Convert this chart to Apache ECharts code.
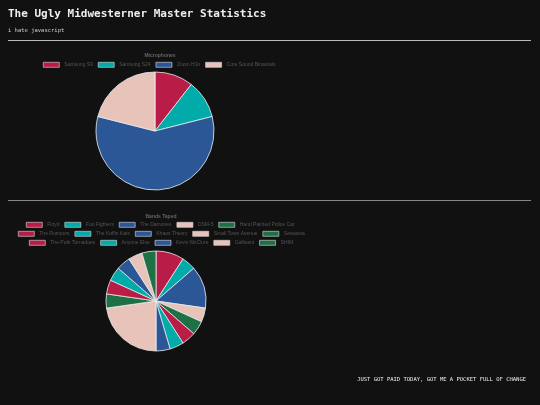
<!DOCTYPE html><html><head><meta charset="utf-8">
<script src="https://cdn.jsdelivr.net/npm/echarts@6/dist/echarts.min.js"></script>
<style>html,body{margin:0;background:#111;}#c{width:540px;height:405px;}</style></head><body><div id="c"></div>
<script>
const micNames=["Samsung S9","Samsung S24","Zoom H1n","Core Sound Binaurals"];
const micValues=[2,2,11,4];
const bandNames=["Floyd","Foo Fighters","The Damones","DSM-5","Hand Painted Police Car","The Rumours","The Koffin Kats","Khaos Theory","Small Town Avenue","Sessanta","The Pork Tornadoes","Anyone Else","Kevin McClure","Gallivant","SHIM"];
const bandValues=[2,1,3,1,1,1,1,1,5,1,1,1,1,1,1];
const palette=["#b91d47","#00aba9","#2b5797","#e8c3b9","#1e7145"];
const chart=echarts.init(document.getElementById('c'));
const legBase={icon:'rect',itemWidth:16,itemHeight:5,itemGap:5,padding:0,textStyle:{color:'#555',fontSize:5,fontFamily:'Liberation Sans'},itemStyle:{borderColor:'#ddd',borderWidth:0.6},selectedMode:false};
chart.setOption({
 backgroundColor:'#111',animation:false,
 title:[{text:'Microphones',left:155,top:48,textAlign:'center',textStyle:{color:'#666',fontSize:5,fontWeight:'bold',fontFamily:'Liberation Sans'}},
        {text:'Bands Taped',left:156,top:209,textAlign:'center',textStyle:{color:'#666',fontSize:5,fontWeight:'bold',fontFamily:'Liberation Sans'}}],
 legend:[
  Object.assign({},legBase,{data:micNames,top:62,left:43}),
  Object.assign({},legBase,{data:bandNames.slice(0,5),top:222,left:26}),
  Object.assign({},legBase,{data:bandNames.slice(5,10),top:231,left:18}),
  Object.assign({},legBase,{data:bandNames.slice(10,15),top:240,left:29})
 ],
 graphic:[
  {type:'text',left:8,top:9,style:{text:'The Ugly Midwesterner Master Statistics',fill:'#eee',font:'bold 11px "DejaVu Sans Mono"'}},
  {type:'text',left:8,top:28,style:{text:'i hate javascript',fill:'#ccc',font:'5.5px "DejaVu Sans Mono"'}},
  {type:'rect',shape:{x:8,y:40,width:523,height:1},style:{fill:'#bbb'}},
  {type:'rect',shape:{x:8,y:200,width:523,height:1},style:{fill:'#888'}},
  {type:'text',right:14,top:377,style:{text:'JUST GOT PAID TODAY, GOT ME A POCKET FULL OF CHANGE',fill:'#eee',font:'5.5px "DejaVu Sans Mono"'}}
 ],
 series:[
  {type:'pie',center:[155,131],radius:59,startAngle:90,label:{show:false},labelLine:{show:false},
   itemStyle:{borderColor:'#eee',borderWidth:0.8},color:palette.slice(0,4),
   data:micNames.map((n,i)=>({name:n,value:micValues[i]}))},
  {type:'pie',center:[156,301],radius:50,startAngle:90,label:{show:false},labelLine:{show:false},
   itemStyle:{borderColor:'#eee',borderWidth:0.8},color:palette,
   data:bandNames.map((n,i)=>({name:n,value:bandValues[i]}))}
 ]
});
</script></body></html>
